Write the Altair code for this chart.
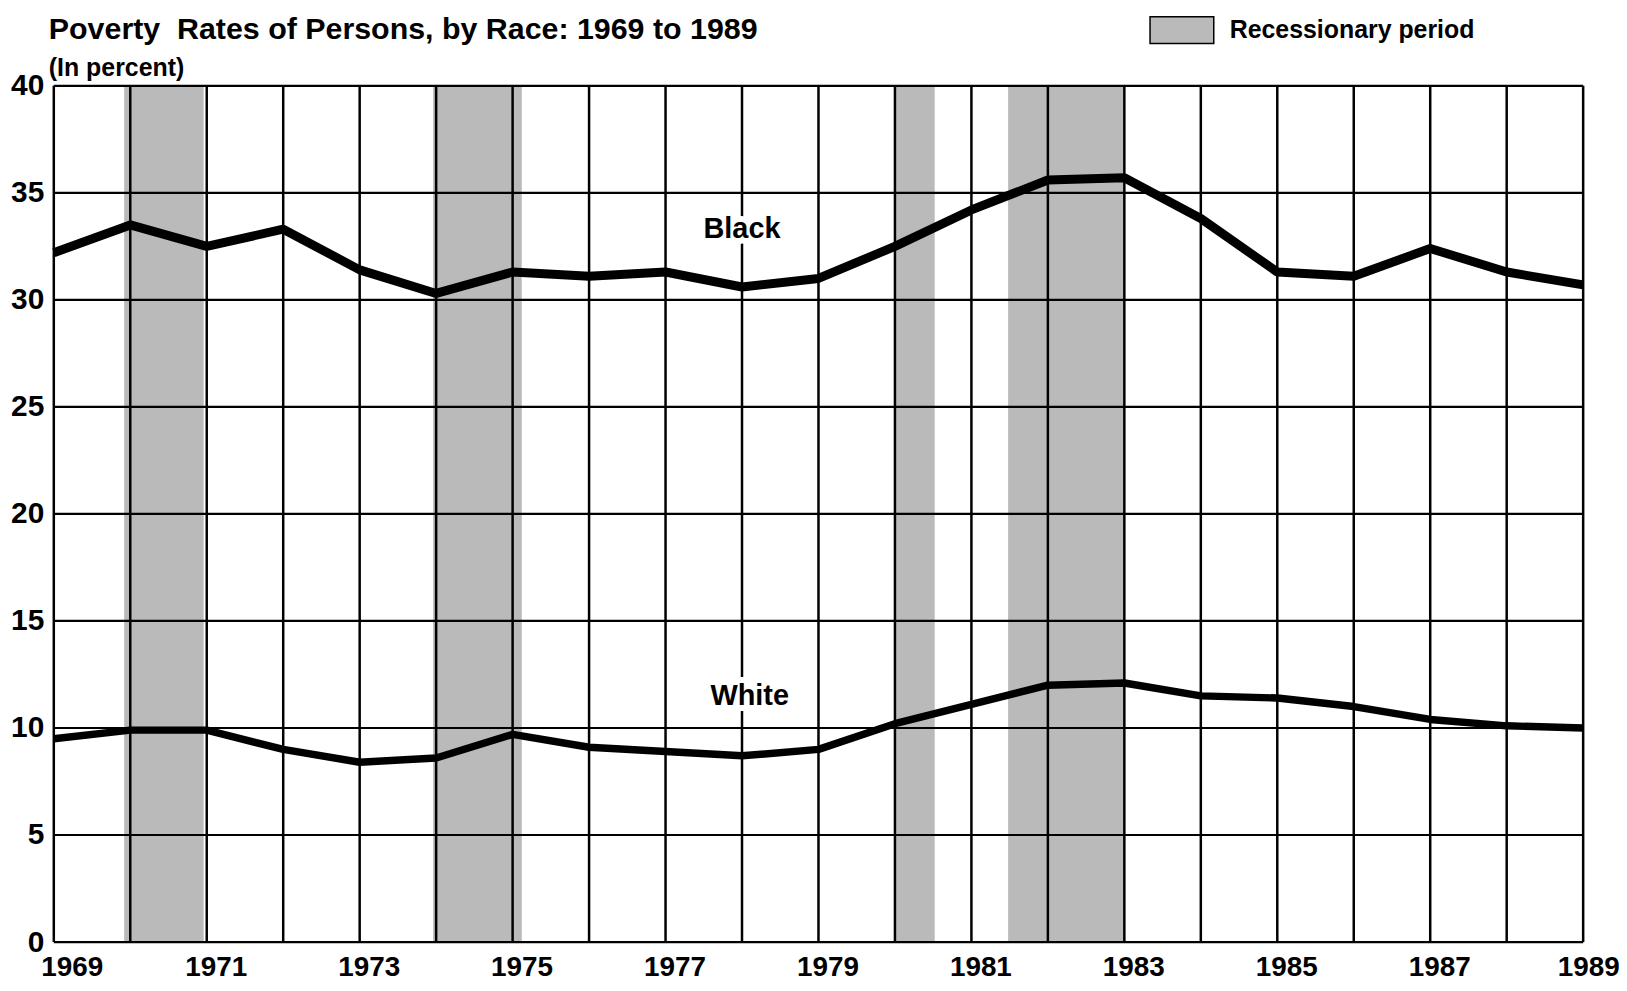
import altair as alt
import pandas as pd

# ---- data ----
years = list(range(1969, 1990))
black_rate = [32.2, 33.5, 32.5, 33.3, 31.4, 30.3, 31.3, 31.1, 31.3, 30.6, 31.0,
              32.5, 34.2, 35.6, 35.7, 33.8, 31.3, 31.1, 32.4, 31.3, 30.7]
white_rate = [9.5, 9.9, 9.9, 9.0, 8.4, 8.6, 9.7, 9.1, 8.9, 8.7, 9.0,
              10.2, 11.1, 12.0, 12.1, 11.5, 11.4, 11.0, 10.4, 10.1, 10.0]

rec_start = [1969.92, 1973.96, 1980.0, 1981.48]
rec_end = [1970.96, 1975.12, 1980.52, 1983.0]
rec_label = "Recessionary period"

y_ticks = [0, 5, 10, 15, 20, 25, 30, 35, 40]

series_names = ["Black", "White"]
label_x = [1978.0, 1978.1]
label_y = [33.3, 11.5]

title_text = "Poverty\u00a0 Rates of Persons, by Race: 1969 to 1989"
subtitle_text = "(In percent)"

FONT = "Liberation Sans"
W, H = 1536, 860

# ---- tables ----
lines_df = pd.DataFrame({
    "year": years * 2,
    "rate": black_rate + white_rate,
    "race": ["Black"] * len(years) + ["White"] * len(years),
})
rec_df = pd.DataFrame({"start": rec_start, "end": rec_end,
                       "label": [rec_label] * len(rec_start)})
vgrid_df = pd.DataFrame({"year": years})
hgrid_df = pd.DataFrame({"v": y_ticks})
lab_df = pd.DataFrame({"name": series_names, "x": label_x, "y": label_y})
head_df = pd.DataFrame({"t": [title_text], "s": [subtitle_text]})

xscale = alt.Scale(domain=[1969, 1989], nice=False, zero=False)
yscale = alt.Scale(domain=[0, 40], nice=False)

x_axis = alt.Axis(values=years, labelExpr="datum.value % 2 == 1 ? toString(datum.value) : ''",
                  grid=False, ticks=False, domain=False, labelFontSize=28,
                  labelFontWeight="bold", labelFont=FONT, labelColor="black",
                  labelPadding=12,
                  labelOffset={"condition": [{"test": "datum.value == 1969", "value": 18},
                                             {"test": "datum.value == 1989", "value": 5}],
                               "value": 9},
                  labelOverlap=False, labelFlush=False, title=None)
y_axis = alt.Axis(values=y_ticks, grid=False, ticks=False, domain=False,
                  labelFontSize=30, labelFontWeight="bold", labelFont=FONT,
                  labelColor="black", labelPadding=10, title=None)

rec = alt.Chart(rec_df).mark_rect(opacity=1).encode(
    x=alt.X("start:Q", scale=xscale, axis=x_axis),
    x2="end:Q",
    y=alt.Y(datum=0, scale=yscale, axis=y_axis),
    y2=alt.Y2(datum=40),
    color=alt.Color("label:N",
                    scale=alt.Scale(domain=[rec_label], range=["#bababa"]),
                    legend=alt.Legend(title=None, orient="none", legendX=1100, legendY=-89,
                                      symbolType="M-1,-0.42H1V0.42H-1Z", symbolSize=4096,
                                      symbolStrokeColor="black", symbolStrokeWidth=1.5,
                                      symbolOpacity=1, labelLimit=500,
                                      labelFont=FONT, labelFontSize=25, labelFontWeight="bold",
                                      labelColor="black", labelOffset=15, padding=0)),
)

vgrid = alt.Chart(vgrid_df).mark_rule(color="black", strokeWidth=2.5).encode(
    x=alt.X("year:Q", scale=xscale),
    y=alt.Y(datum=0, scale=yscale),
    y2=alt.Y2(datum=40),
)
hgrid = alt.Chart(hgrid_df).mark_rule(color="black", strokeWidth=2.2).encode(
    y=alt.Y("v:Q", scale=yscale),
    x=alt.X(datum=1969, scale=xscale),
    x2=alt.X2(datum=1989),
)

line_black = alt.Chart(lines_df).transform_filter("datum.race == 'Black'").mark_line(
    color="black", strokeWidth=9, strokeJoin="round").encode(
    x=alt.X("year:Q", scale=xscale), y=alt.Y("rate:Q", scale=yscale))
line_white = alt.Chart(lines_df).transform_filter("datum.race == 'White'").mark_line(
    color="black", strokeWidth=7.5, strokeJoin="round").encode(
    x=alt.X("year:Q", scale=xscale), y=alt.Y("rate:Q", scale=yscale))

halo = alt.Chart(lab_df).mark_text(font=FONT, fontSize=29, fontWeight="bold",
                                   stroke="white", strokeWidth=12, fill="white",
                                   strokeJoin="round").encode(
    x=alt.X("x:Q", scale=xscale), y=alt.Y("y:Q", scale=yscale), text="name:N")
labels = alt.Chart(lab_df).mark_text(font=FONT, fontSize=29, fontWeight="bold",
                                     color="black").encode(
    x=alt.X("x:Q", scale=xscale), y=alt.Y("y:Q", scale=yscale), text="name:N")

title_mark = alt.Chart(head_df).mark_text(font=FONT, fontSize=30.5, fontWeight="bold",
                                          color="black", align="left",
                                          baseline="alphabetic").encode(
    x=alt.value(-5), y=alt.value(-47), text="t:N")
subtitle_mark = alt.Chart(head_df).mark_text(font=FONT, fontSize=25, fontWeight="bold",
                                             color="black", align="left",
                                             baseline="alphabetic").encode(
    x=alt.value(-5), y=alt.value(-10), text="s:N")

chart = alt.layer(rec, vgrid, hgrid, line_black, line_white, halo, labels,
                  title_mark, subtitle_mark).properties(
    width=W, height=H,
    autosize=alt.AutoSizeParams(type="none"),
    padding={"left": 46, "top": 76, "right": 36, "bottom": 39},
).configure_view(stroke="black", strokeWidth=2.5).configure(background="white")

chart.save("out.html", embed_options={"renderer": "svg", "actions": False})
